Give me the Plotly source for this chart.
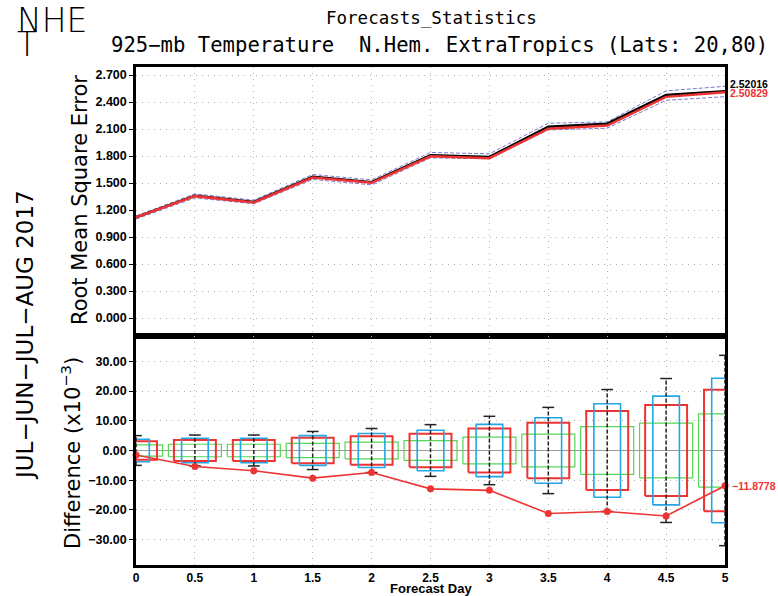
import plotly.graph_objects as go

# Forecast lead times (days)
days = [0, 0.5, 1, 1.5, 2, 2.5, 3, 3.5, 4, 4.5, 5]
day_labels = ["0", "0.5", "1", "1.5", "2", "2.5", "3", "3.5", "4", "4.5", "5"]

# RMSE of 925-mb temperature for the two models
rmse_black = [1.120, 1.360, 1.290, 1.570, 1.510, 1.810, 1.790, 2.125, 2.160, 2.480, 2.52016]
rmse_red = [1.1185, 1.3546, 1.2832, 1.5607, 1.5026, 1.7971, 1.7766, 2.1038, 2.1395, 2.458, 2.50829]
band_upper = [1.135, 1.380, 1.310, 1.595, 1.535, 1.840, 1.825, 2.165, 2.180, 2.525, 2.575]
band_lower = [1.100, 1.335, 1.270, 1.540, 1.480, 1.780, 1.770, 2.090, 2.110, 2.420, 2.460]

# Difference (red - black) in units of 1e-3
diff = [-1.5, -5.4, -6.8, -9.3, -7.4, -12.9, -13.4, -21.2, -20.5, -22.0, -11.8778]

# Significance thresholds (half heights, x1e-3)
green_half = [1.9, 2.1, 2.1, 2.4, 2.8, 3.3, 4.5, 5.5, 8.0, 9.2, 12.3]
red_half = [3.1, 3.5, 3.5, 4.3, 4.8, 5.6, 7.4, 9.3, 13.3, 15.3, 20.4]
blue_half = [3.8, 4.1, 4.1, 5.0, 5.7, 6.8, 8.8, 11.0, 15.7, 18.3, 24.3]
whisker_half = [5.0, 5.2, 5.2, 6.4, 7.4, 8.7, 11.5, 14.5, 20.5, 24.2, 32.0]

rmse_ticks = [0.0, 0.3, 0.6, 0.9, 1.2, 1.5, 1.8, 2.1, 2.4, 2.7]
diff_ticks = [-30, -20, -10, 0, 10, 20, 30]

TXT = "DejaVu Sans"
MONO = "DejaVu Sans Mono"
TICK = dict(family="Liberation Sans", size=12.5, color="black", weight="bold")
RED = "#ee3333"
BLUE = "#22a6e6"
GREEN = "#55d655"

# plot-area geometry in pixels (used to place free text)
L, R, T, B = 136, 725, 67, 565
PW, PH = R - L, B - T


def px(x):
    return (x - L) / PW


def py(y):
    return (B - y) / PH


def rect_path(centers, halves, width):
    xs, ys = [], []
    for c, h in zip(centers, halves):
        xs += [c - width, c + width, c + width, c - width, c - width, None]
        ys += [-h, -h, h, h, -h, None]
    return xs, ys


fig = go.Figure()

# ---- upper panel: RMSE ----
fig.add_trace(go.Scatter(x=days, y=band_upper, mode="lines", xaxis="x", yaxis="y",
                         line=dict(color="#7a7ad0", width=1, dash="4px,2px")))
fig.add_trace(go.Scatter(x=days, y=band_lower, mode="lines", xaxis="x", yaxis="y",
                         line=dict(color="#7a7ad0", width=1, dash="4px,2px")))
fig.add_trace(go.Scatter(x=days, y=rmse_black, mode="lines", xaxis="x", yaxis="y",
                         line=dict(color="black", width=2.5)))
fig.add_trace(go.Scatter(x=days, y=rmse_red, mode="lines", xaxis="x", yaxis="y",
                         line=dict(color=RED, width=2.5)))

# ---- lower panel: difference with significance boxes ----
for halves, w, col, lw in [(green_half, 0.225, GREEN, 1.2),
                           (red_half, 0.178, RED, 2),
                           (blue_half, 0.113, BLUE, 1.6)]:
    bx, by = rect_path(days, halves, w)
    fig.add_trace(go.Scatter(x=bx, y=by, mode="lines", xaxis="x2", yaxis="y2",
                             line=dict(color=col, width=lw)))

wx, wy, cx, cy = [], [], [], []
for c, h in zip(days, whisker_half):
    wx += [c, c, None]
    wy += [-h, h, None]
    cx += [c - 0.05, c + 0.05, None, c - 0.05, c + 0.05, None]
    cy += [h, h, None, -h, -h, None]
fig.add_trace(go.Scatter(x=wx, y=wy, mode="lines", xaxis="x2", yaxis="y2",
                         line=dict(color="#222222", width=1.5, dash="4px,2px")))
fig.add_trace(go.Scatter(x=cx, y=cy, mode="lines", xaxis="x2", yaxis="y2",
                         line=dict(color="#222222", width=1.5)))

fig.add_trace(go.Scatter(x=days, y=diff, mode="lines+markers", xaxis="x2", yaxis="y2",
                         line=dict(color=RED, width=1.6),
                         marker=dict(color=RED, size=7), cliponaxis=False))

split = 229 / 498
axis_common = dict(showline=True, linecolor="black", linewidth=2.5, mirror=True,
                   showgrid=True, gridcolor="#b4b4b4", griddash="1px,5px", gridwidth=1)

fig.update_layout(
    width=778, height=596,
    margin=dict(l=L, r=778 - R, t=T, b=596 - B),
    paper_bgcolor="white", plot_bgcolor="white",
    showlegend=False,
    xaxis=dict(domain=[0, 1], anchor="y", range=[0, 5], tickvals=days,
               showticklabels=False, ticks="", **axis_common),
    yaxis=dict(domain=[split, 1], anchor="x", range=[-0.2, 2.79], tickvals=rmse_ticks,
               tickformat=".3f", ticks="outside", ticklen=4, tickcolor="black",
               tickfont=TICK, zeroline=False, **axis_common),
    xaxis2=dict(domain=[0, 1], anchor="y2", range=[0, 5], tickvals=days, ticktext=day_labels,
                ticks="", tickfont=dict(family="Liberation Sans", size=12, color="black",
                                        weight="bold"), **axis_common),
    yaxis2=dict(domain=[0, split], anchor="x2", range=[-38.5, 38.5], tickvals=diff_ticks,
                tickformat=".2f", ticks="outside", ticklen=4, tickcolor="black",
                tickfont=TICK, zeroline=True, zerolinecolor="#999999", zerolinewidth=1,
                **axis_common),
)


def note(text, x, y, font, angle=0, xanchor="center", yanchor="middle"):
    fig.add_annotation(text=text, x=px(x), y=py(y), xref="paper", yref="paper",
                       xanchor=xanchor, yanchor=yanchor, showarrow=False,
                       textangle=angle, font=font)


# Region tag in the corner
note("NHE", 15, 21, dict(family=TXT, size=33, color="black", weight=200), xanchor="left")
note("T", 15, 45, dict(family=TXT, size=33, color="black", weight=200), xanchor="left")

# Titles
note("Forecasts_Statistics", 431, 18, dict(family=MONO, size=17.5, color="black"))
note("925\u2212mb Temperature  N.Hem. ExtraTropics (Lats: 20,80)", 439, 45,
     dict(family=MONO, size=20.6, color="black"))

# Side labels
note("JUL\u2212JUN\u2212JUL\u2212AUG 2017", 25, 335, dict(family=TXT, size=23, color="black"), angle=-90)
note("Root Mean Square Error", 80, 200, dict(family=TXT, size=21, color="black"), angle=-90)
note("Difference (x10<sup>\u22123</sup>)", 71, 453, dict(family=TXT, size=21, color="black"), angle=-90)
note("Forecast Day", 431, 588, dict(family="Liberation Sans", size=13, color="black", weight="bold"))

# End-value labels
lab = dict(family="Liberation Sans", size=10.5, weight="bold")
fig.add_annotation(text=f"{rmse_black[-1]:.5f}", x=5, y=rmse_black[-1], xref="x", yref="y",
                   xanchor="left", xshift=3, yshift=7, showarrow=False,
                   font=dict(color="black", **lab))
fig.add_annotation(text=f"{rmse_red[-1]:.5f}", x=5, y=rmse_red[-1], xref="x", yref="y",
                   xanchor="left", xshift=3, yshift=-1, showarrow=False,
                   font=dict(color=RED, **lab))
fig.add_annotation(text=f"\u2212{abs(diff[-1]):.4f}", x=5, y=diff[-1], xref="x2", yref="y2",
                   xanchor="left", xshift=5, showarrow=False,
                   font=dict(color=RED, **lab))

fig.write_html("out.html")
